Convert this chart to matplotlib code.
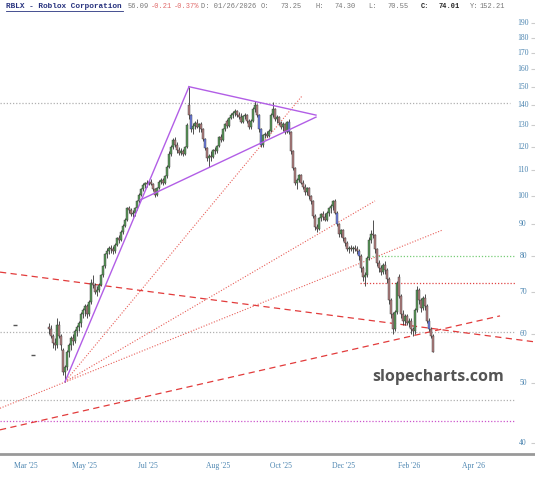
"""
RBLX daily candles with wedge / fan trendlines (slopecharts style)
"""

import matplotlib
matplotlib.use('Agg')  # no display

import matplotlib.pyplot as plt
import matplotlib.transforms as mtrans
from matplotlib.lines import Line2D

# ─────────────────────────────────────────────
# Data (daily bars, index 0 = first bar on chart)
# ─────────────────────────────────────────────
opens = [61.5, 61, 59.5, 58, 57.5, 62, 59.5, 56.5, 52, 53, 56, 57.5, 59, 58.5, 60.5, 61.5, 62.5, 64.5, 65.5, 66.5,
         64.5, 67.5, 72.5, 72, 70, 70.5, 72, 74.5, 77, 80.5, 81.5, 82.5, 82, 81.5, 83.5, 85.5, 85, 87.5, 89.5, 91.5,
         95.5, 95, 93.5, 94, 95.5, 98, 100.5, 102.5, 104, 105, 104.5, 105.5, 104.5, 102.5, 100.5, 103, 105.5, 106, 105, 107.5,
         111.5, 117, 120, 123, 121, 118.5, 117.5, 118, 117, 120, 140, 135, 128, 129.5, 131, 129, 130.5, 128, 123.5, 119.5,
         115, 116, 115.5, 118.5, 118, 120.5, 124.5, 123, 128, 132, 129.5, 133.5, 135, 136, 137, 135, 134, 131.5, 134.5, 135,
         132, 129, 132, 138, 140, 135, 128, 121, 125.5, 126, 125, 127.5, 135, 138, 133, 134, 131, 129, 130.5, 127,
         131.5, 127, 118, 111, 105, 106, 108, 105, 103.5, 101.5, 103, 100, 98, 93, 89, 88.5, 92, 93.5, 92.5, 91.5,
         94, 95.5, 96.5, 98, 94, 90, 87, 88, 85.5, 84, 82, 82.5, 82, 82.5, 82, 81.5, 80, 76.5, 74, 74.5,
         79.5, 85, 87, 86.5, 82, 78, 76.5, 75.5, 77.5, 76, 73.5, 68, 64.5, 61, 65, 74, 69, 64.5, 63, 64,
         62.5, 63, 61, 60.5, 65.5, 70.5, 68, 66, 68.5, 66.5, 63, 61, 59.5]
highs = [62.5, 62, 60, 59, 63.5, 63, 60, 57, 53.5, 56.5, 58, 59.5, 60, 61, 62, 63, 65, 66, 67, 67,
         68, 73.5, 74.5, 72.5, 71.5, 72.5, 75, 77.5, 81, 82.5, 83, 83.5, 83, 84, 86, 86.5, 88, 90, 92, 96,
         96.5, 95.5, 95, 96, 98.5, 101, 103, 105, 105.5, 106, 106, 106.5, 105, 103, 103.5, 106, 107, 107, 108, 112,
         118, 121, 124, 124.5, 122, 120, 119.5, 119, 120.5, 131, 150, 135.5, 131, 132, 133, 131, 131.5, 128.5, 124, 120,
         117, 118, 119, 120, 121, 125, 126, 128.5, 131, 133, 134, 136, 137, 138, 137.5, 136.5, 136, 135, 136, 135.5,
         133, 133, 139, 142, 140.5, 135.5, 128.5, 126, 127, 127.5, 128, 136, 141.5, 138.5, 135, 134.5, 132, 131.5, 131, 132,
         133, 127.5, 118.5, 111.5, 107, 108.5, 108.5, 106, 104.5, 103.5, 103.5, 100.5, 98.5, 93.5, 90, 92.5, 94, 94.5, 94, 94.5,
         96, 97, 98.5, 99, 94.5, 90.5, 88.5, 88.5, 86, 84.5, 83, 83.5, 83, 83.5, 83, 82, 80.5, 77, 75.5, 80,
         86, 88, 91.5, 87, 82.5, 79, 77.5, 78, 78.5, 76.5, 74, 68.5, 65, 65.5, 73, 75, 69.5, 65.5, 64.5, 64.5,
         63.5, 63.5, 61.5, 66, 71.5, 71, 68.5, 69, 69.5, 67, 63.5, 61.5, 60]
lows = [60, 59, 57, 56.5, 57, 59, 56.5, 51.5, 50.2, 52.5, 55, 56.5, 57.5, 58, 59.5, 60.5, 61.5, 63.5, 64, 63.5,
        64, 67, 71, 69.5, 69, 70, 71.5, 74, 76.5, 79.5, 80.5, 81, 80.5, 81, 83, 84, 84.5, 87, 89, 91,
        94, 93, 92.5, 93, 95, 97.5, 100, 102, 103, 103.5, 104, 104, 102, 99.5, 100, 102.5, 104.5, 104, 104.5, 107,
        111, 116, 119, 120, 117.5, 116.5, 116.5, 116, 116.5, 119.5, 133, 127, 126, 128, 128.5, 127, 127, 122.5, 118.5, 114,
        111.5, 114, 115, 117, 117.5, 120, 122, 122.5, 127.5, 128.5, 129, 133, 133.5, 134.5, 134, 133, 131, 131, 133, 131,
        128, 128, 131.5, 136.5, 134, 127, 120, 120, 124, 124.5, 124.5, 127, 134, 132, 131, 130, 128, 127.5, 126, 126.5,
        126, 117, 110, 104, 102.5, 105.5, 104.5, 102.5, 100.5, 100.5, 99, 97, 92, 88, 87.5, 88, 91, 91.5, 91, 91,
        93, 94, 95, 93.5, 89.5, 86, 86, 84.5, 83, 81.5, 81, 81.5, 81, 81.5, 80.5, 79, 75.5, 73, 71.5, 74,
        79, 84, 85.5, 81, 77, 75.5, 74.5, 75, 75, 72.5, 67, 63.5, 60, 60.5, 64.5, 68.5, 63.5, 62, 62, 62,
        61.5, 60, 59.5, 60, 65, 67, 65, 65.5, 65.5, 62.5, 60.5, 59, 56]
closes = [61, 59.5, 58, 57.5, 62, 59.5, 57.5, 52, 53, 56, 57.5, 59, 58.5, 60.5, 61.5, 62.5, 64.5, 65.5, 66.5, 64.5,
          67.5, 72.5, 72, 70, 70.5, 72, 74.5, 77, 80.5, 81.5, 82.5, 82, 81.5, 83.5, 85.5, 85, 87.5, 89.5, 91.5, 95.5,
          95, 93.5, 94, 95.5, 98, 100.5, 102.5, 104, 105, 104.5, 105.5, 104.5, 102.5, 100.5, 103, 105.5, 106, 105, 107.5, 111.5,
          117, 120, 123, 121, 118.5, 117.5, 118, 117, 120, 130, 135, 128, 129.5, 131, 129, 130.5, 128, 123.5, 119.5, 115,
          116, 115.5, 118.5, 118, 120.5, 124.5, 123, 128, 130.5, 129.5, 133.5, 135, 136, 137, 135, 134, 131.5, 134.5, 135, 132,
          129, 132, 138, 140, 135, 128, 121, 125.5, 126, 125, 127.5, 135, 138, 133, 134, 131, 129, 130.5, 127, 131.5,
          127, 118, 111, 105, 106, 108, 105, 103.5, 101.5, 103, 100, 98, 93, 89, 88.5, 92, 93.5, 92.5, 91.5, 94,
          95.5, 96.5, 98, 94, 90, 87, 88, 85.5, 84, 82, 82.5, 82, 82.5, 82, 81.5, 80, 76.5, 74, 74.5, 79.5,
          85, 87, 86.5, 82, 78, 76.5, 75.5, 77.5, 76, 73.5, 68, 64.5, 61, 65, 72.5, 69, 64.5, 63, 64, 62.5,
          63, 61, 60.5, 65.5, 70.5, 68, 66, 68.5, 66.5, 63, 61, 59.5, 56.1]
blue_bars = [71, 78, 105, 106, 120, 144, 155, 190]

ytick_vals = [40, 50, 60, 70, 80, 90, 100, 110, 120, 130, 140, 150, 160, 170, 180, 190]
xtick_pos = [-11.5, 17.5, 49.5, 84.5, 116, 147, 180, 212.5]
xtick_labels = ["Mar '25", "May '25", "Jul '25", "Aug '25", "Oct '25", "Dec '25", "Feb '26", "Apr '26"]

# trendlines as (bar0, price0, bar1, price1)
wedge_lines = [(8, 50.2, 70, 150), (70, 150, 133.5, 135), (45.5, 98.5, 133.5, 134)]
fan_lines = [(8, 50.2, 126.5, 144.9), (8, 50.2, 163, 98.2), (-24.5, 45.5, 197, 88.2)]
dashed_lines = [(-24.5, 75.4, 243, 58.2), (-24.5, 42.0, 225.5, 64.1)]

# horizontal levels
h_levels = [141.2, 60.4, 80.0, 72.5, 46.9, 43.4]
h_start = [-24.5, -24.5, 161.5, 155.5, -24.5, -24.5]
h_end = [230.5, 233, 233, 233, 233, 233]
h_colors = ['#b0b0b0', '#b0b0b0', '#77cc77', '#e04444', '#b0b0b0', '#cc55cc']

# stray markers on the left
stray_x = [-17, -8]
stray_y = [62, 55.5]

W, H = 535, 480
fig = plt.figure(figsize=(W / 100, H / 100), dpi=100)
ax = fig.add_axes([0, 26 / H, 1, 454 / H])
ax.set_yscale('log')
ax.set_xlim(-24.5, 243)
ax.set_ylim(38.4, 206.9)

# ─────────────────────────────────────────────
# Lines
# ─────────────────────────────────────────────
for lvl, x0, x1, c in zip(h_levels, h_start, h_end, h_colors):
    ax.plot([x0, x1], [lvl, lvl], color=c, lw=0.9, ls=(0, (1, 1.5)), zorder=1)

for x0, p0, x1, p1 in fan_lines:
    ax.plot([x0, x1], [p0, p1], color='#e8605a', lw=0.8, ls=(0, (1, 1.5)), zorder=2)

for x0, p0, x1, p1 in dashed_lines:
    ax.plot([x0, x1], [p0, p1], color='#e23b3b', lw=0.9, ls=(0, (5, 3.5)), zorder=2)

# ─────────────────────────────────────────────
# Candles
# ─────────────────────────────────────────────
idx = list(range(len(closes)))
ax.vlines(idx, lows, highs, color='#333333', lw=0.6, zorder=3)

bottoms, heights, colors = [], [], []
for i, o, c in zip(idx, opens, closes):
    bottoms.append(min(o, c))
    heights.append(max(abs(c - o), 0.3))
    if i in blue_bars:
        colors.append('#6f7fe6')
    elif c >= o:
        colors.append('#5a9a5a')
    else:
        colors.append('#b48080')
ax.bar(idx, heights, bottom=bottoms, width=0.9, color=colors,
       edgecolor='#333333', linewidth=0.3, zorder=4)

for x0, p0, x1, p1 in wedge_lines:
    ax.plot([x0, x1], [p0, p1], color='#b25ee6', lw=1.0, zorder=5)

ax.plot(stray_x, stray_y, ls='none', marker='_', ms=3, color='#555555', zorder=3)

# ─────────────────────────────────────────────
# Axes styling
# ─────────────────────────────────────────────
for s in ['top', 'left', 'right']:
    ax.spines[s].set_visible(False)
ax.spines['bottom'].set_color('#999999')
ax.spines['bottom'].set_linewidth(2)

ax.set_xticks(xtick_pos)
ax.set_xticklabels(xtick_labels, fontsize=5.5, color='#4a84b0', family='Liberation Serif')
ax.tick_params(axis='x', length=0, pad=6)

ax.yaxis.set_minor_locator(matplotlib.ticker.NullLocator())
ax.set_yticks(ytick_vals)
ax.yaxis.tick_right()
ax.tick_params(axis='y', direction='in', length=3, color='#cccccc', labelright=False)
trans = mtrans.blended_transform_factory(ax.transAxes, ax.transData)
for v in ytick_vals:
    ax.text(0.9776, v, str(v), transform=trans, ha='center', va='center',
            fontsize=5.5, color='#4a84b0', family='Liberation Serif')

# watermark
fig.text(438 / W, 1 - 377 / H, 'slopecharts.com', ha='center', va='center',
         fontsize=11.5, fontweight='bold', color='#555555', family='Open Sans')

# header line
header = [("56.09", 128, '#777777', 'normal'),
          ("-0.21", 151, '#e06a6a', 'normal'),
          ("-0.37%", 174, '#e06a6a', 'normal'),
          ("D: 01/26/2026", 201, '#777777', 'normal'),
          ("O:", 261, '#777777', 'normal'), ("73.25", 280, '#777777', 'normal'),
          ("H:", 315, '#777777', 'normal'), ("74.30", 334, '#777777', 'normal'),
          ("L:", 368, '#777777', 'normal'), ("70.55", 387, '#777777', 'normal'),
          ("C:", 421, '#222222', 'bold'), ("74.01", 439, '#222222', 'bold'),
          ("Y:", 470, '#777777', 'normal'), ("152.21", 480, '#777777', 'normal')]
fig.text(6 / W, 1 - 7 / H, "RBLX - Roblox Corporation", ha='left', va='center', fontsize=5.6,
         color='#27327e', fontweight='bold', family='Liberation Mono')
for txt, xp, col, wt in header:
    fig.text(xp / W, 1 - 7 / H, txt, ha='left', va='center', fontsize=5.0,
             color=col, fontweight=wt, family='Liberation Mono')
fig.add_artist(Line2D([6 / W, 123 / W], [1 - 11 / H, 1 - 11 / H], color='#27327e', lw=0.6))

plt.savefig('out.png', dpi=100)
plt.close()
